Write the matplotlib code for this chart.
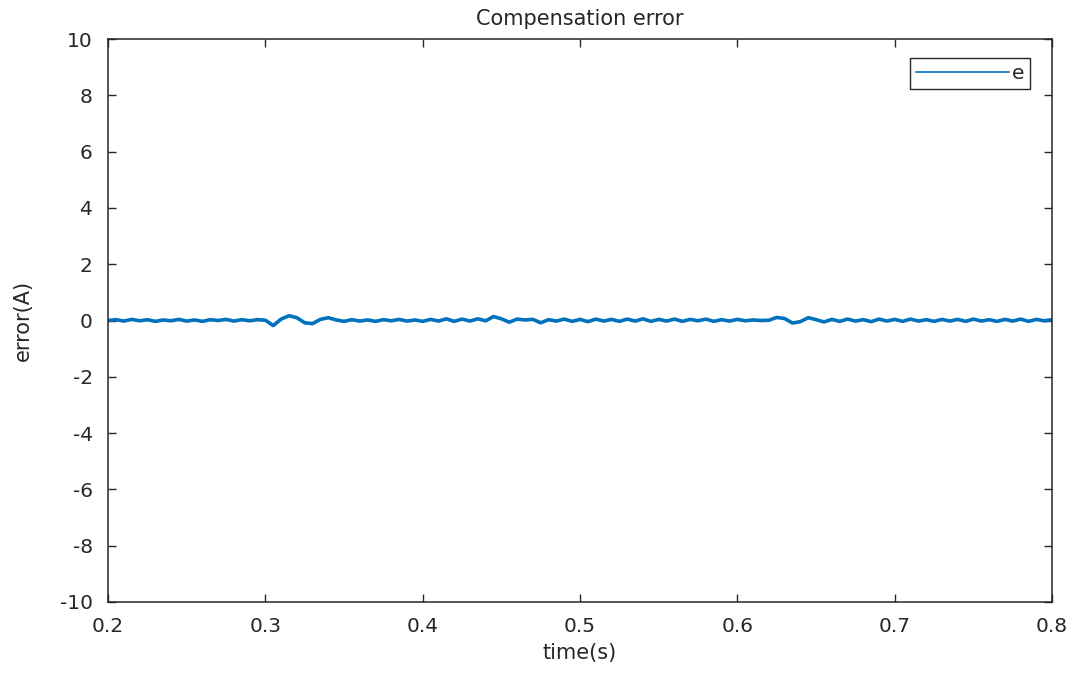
import numpy as np
import matplotlib
matplotlib.use("Agg")
import matplotlib.pyplot as plt

# compensation error samples (A), one every 5 ms from 0.2 s to 0.8 s
err = [
    0.00, 0.03, -0.02, 0.04, -0.01, 0.03, -0.03, 0.02, -0.01, 0.04,
    -0.02, 0.02, -0.03, 0.03, 0.00, 0.04, -0.02, 0.03, -0.01, 0.03,
    0.01, -0.18, 0.05, 0.17, 0.10, -0.08, -0.11, 0.04, 0.10, 0.02,
    -0.03, 0.03, -0.02, 0.02, -0.03, 0.03, -0.01, 0.04, -0.02, 0.02,
    -0.03, 0.04, -0.02, 0.06, -0.03, 0.05, -0.02, 0.06, -0.01, 0.14,
    0.06, -0.06, 0.05, 0.02, 0.04, -0.08, 0.03, -0.02, 0.05, -0.03,
    0.04, -0.04, 0.05, -0.02, 0.04, -0.03, 0.05, -0.02, 0.06, -0.03,
    0.04, -0.02, 0.05, -0.03, 0.04, -0.01, 0.05, -0.03, 0.03, -0.02,
    0.04, -0.01, 0.02, 0.00, 0.01, 0.11, 0.07, -0.09, -0.04, 0.10,
    0.03, -0.05, 0.04, -0.03, 0.05, -0.02, 0.03, -0.04, 0.05, -0.02,
    0.04, -0.03, 0.05, -0.02, 0.03, -0.03, 0.04, -0.02, 0.04, -0.03,
    0.05, -0.02, 0.03, -0.03, 0.04, -0.02, 0.05, -0.03, 0.04, -0.01,
    0.03,
]
t = np.linspace(0.2, 0.8, len(err))

x_ticks = [0.2, 0.3, 0.4, 0.5, 0.6, 0.7, 0.8]
y_ticks = [-10, -8, -6, -4, -2, 0, 2, 4, 6, 8, 10]

ink = "#262626"
blue = "#0072BD"

plt.rcParams["font.family"] = ["DejaVu Sans"]
plt.rcParams["font.size"] = 14

fig = plt.figure(figsize=(10.79, 6.73), dpi=100)
ax = fig.add_axes([0.1001, 0.1055, 0.8750, 0.8365])

ax.plot(t, err, color=blue, lw=2.6, label="e")

ax.set_xlim(0.2, 0.8)
ax.set_ylim(-10, 10)
ax.set_xticks(x_ticks)
ax.set_yticks(y_ticks)
ax.set_xticklabels([f"{v:g}" for v in x_ticks])
ax.set_yticklabels([f"{v:g}" for v in y_ticks])

ax.tick_params(direction="in", length=6, width=1, colors=ink,
               top=True, right=True, labelsize=14.5)
ax.tick_params(axis="x", pad=11)
ax.tick_params(axis="y", pad=11)
for s in ax.spines.values():
    s.set_color(ink)
    s.set_linewidth(1.1)

ax.set_title("Compensation error", color=ink, fontsize=15, pad=10)
ax.set_xlabel("time(s)", color=ink, fontsize=15, labelpad=5)
ax.set_ylabel("error(A)", color=ink, fontsize=15, labelpad=19)

leg = ax.legend(loc="upper right", bbox_to_anchor=(0.977, 0.966),
                borderaxespad=0.0, handlelength=4.6, handletextpad=0.15,
                borderpad=0.3, fancybox=False, framealpha=1,
                edgecolor=ink, fontsize=14.5)
leg.get_frame().set_linewidth(1.0)
for h in leg.get_lines():
    h.set_linewidth(1.2)
for tx in leg.get_texts():
    tx.set_color(ink)

fig.savefig("out.png", dpi=100)
